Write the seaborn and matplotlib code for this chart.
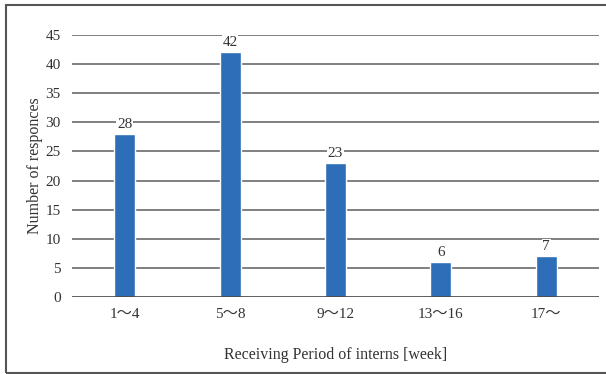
import matplotlib
matplotlib.use("Agg")
import matplotlib.pyplot as plt
from matplotlib.patches import Rectangle
import seaborn as sns
import pandas as pd

# Internship receiving period survey
periods = ["1～4", "5～8", "9～12", "13～16", "17～"]
responses = [28, 42, 23, 6, 7]
y_ticks = [0, 5, 10, 15, 20, 25, 30, 35, 40, 45]

sns.set_theme(style="white")
plt.rcParams["font.family"] = ["Liberation Serif", "Noto Sans CJK JP"]

df = pd.DataFrame({"period": periods, "responses": responses})

fig = plt.figure(figsize=(6.06, 3.74), dpi=100)
ax = fig.add_axes([0.1188, 0.2059, 0.8696, 0.7005])

sns.barplot(data=df, x="period", y="responses", color="#2E6EB9",
            saturation=1, width=0.2, ax=ax, zorder=3)

ax.set_ylim(0, 45)
ax.set_xlim(-0.5, 4.5)
ax.set_yticks(y_ticks)
for t in y_ticks[1:]:
    ax.axhline(t, color="#6a6a6a", lw=1.2, zorder=1)
ax.axhline(0, color="#444444", lw=1.2, zorder=4)

for s in ax.spines.values():
    s.set_visible(False)

ax.tick_params(axis="both", length=0, labelsize=11, colors="#333333")
ax.tick_params(axis="y", pad=8)
ax.tick_params(axis="x", pad=8)

ax.set_ylabel("Number of responces", fontsize=11.5, color="#333333", labelpad=2)
ax.set_xlabel("Receiving Period of interns [week]", fontsize=11.5,
              color="#333333", labelpad=19)

for i, v in enumerate(responses):
    ax.text(i, v + 1.7, f"{v}", ha="center", va="center", fontsize=11,
            color="#333333", zorder=5,
            bbox=dict(facecolor="white", edgecolor="none", pad=0.6))

# outer frame
fig.patches.append(Rectangle((6 / 606, 1 / 374), 1.0, 368 / 374,
                             transform=fig.transFigure, fill=False,
                             edgecolor="#555555", lw=1.5, clip_on=False))

fig.savefig("out.png", dpi=100)
